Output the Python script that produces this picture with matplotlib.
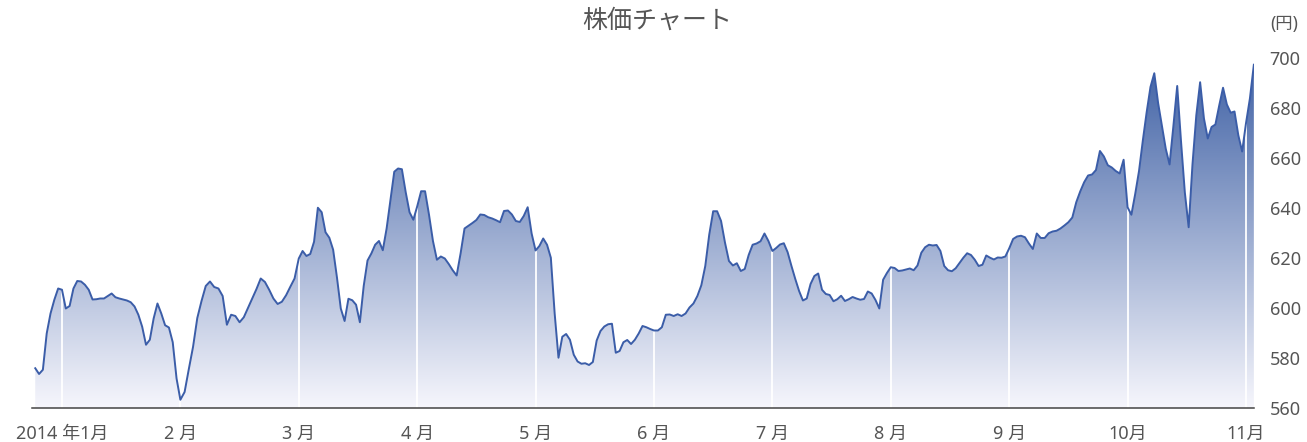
import numpy as np
import pandas as pd
import matplotlib
matplotlib.use("Agg")
import matplotlib.pyplot as plt
from matplotlib.patches import Polygon
from matplotlib.colors import LinearSegmentedColormap

plt.rcParams['font.family'] = ['Noto Sans', 'Noto Sans CJK JP', 'DejaVu Sans']

# Daily closing prices (円), one list per calendar month
first_day = "2013-12-25"
prices_2013_12 = [576.1, 573.8, 575.5, 590.0, 598.0, 603.5, 608.0]
prices_2014_01 = [607.5, 600.0, 601.0, 608.0, 611.0, 610.8, 609.5, 607.5, 603.6, 603.7,
                  604.0, 604.0, 605.0, 606.0, 604.5, 604.0, 603.6, 603.2, 602.5, 600.8,
                  597.5, 592.7, 585.5, 587.5, 596.0, 602.0, 598.0, 593.3, 592.4, 586.5,
                  572.0]
prices_2014_02 = [563.5, 566.6, 575.8, 584.7, 596.2, 603.0, 609.0, 610.8, 608.6, 608.0,
                  605.0, 593.5, 597.5, 597.0, 594.5, 596.5, 600.3, 604.0, 607.8, 612.0,
                  610.6, 607.5, 604.0, 601.8, 602.7, 605.3, 608.7, 612.0]
prices_2014_03 = [620.0, 623.0, 621.0, 621.8, 626.7, 640.3, 638.5, 630.5, 628.3, 623.5,
                  612.4, 600.0, 595.0, 603.9, 603.3, 601.5, 594.5, 609.0, 619.2, 622.0,
                  625.5, 627.0, 623.3, 632.0, 643.5, 654.7, 656.0, 655.7, 646.5, 638.5,
                  635.5]
prices_2014_04 = [640.8, 646.9, 646.9, 637.5, 627.0, 619.5, 620.8, 620.0, 617.8, 615.3,
                  613.2, 622.0, 632.0, 633.1, 634.2, 635.4, 637.6, 637.4, 636.5, 636.0,
                  635.3, 634.5, 639.0, 639.2, 637.6, 635.0, 634.6, 637.0, 640.5, 630.0]
prices_2014_05 = [623.2, 625.0, 628.0, 625.5, 620.3, 598.0, 580.3, 588.7, 589.8, 587.5,
                  581.5, 578.8, 577.9, 578.1, 577.4, 578.6, 587.2, 591.0, 592.8, 593.7,
                  593.9, 582.3, 583.0, 586.5, 587.4, 585.8, 587.5, 590.0, 593.0, 592.5,
                  591.8]
prices_2014_06 = [591.2, 591.2, 592.5, 597.5, 597.6, 597.0, 597.7, 597.0, 598.0, 600.4,
                  602.0, 605.0, 609.3, 617.0, 629.5, 638.9, 638.9, 635.0, 626.3, 619.0,
                  617.2, 618.1, 615.0, 615.8, 621.4, 625.5, 626.0, 626.9, 630.0, 627.0]
prices_2014_07 = [623.0, 624.2, 625.6, 626.1, 622.5, 617.0, 611.8, 607.0, 603.2, 604.0,
                  609.8, 613.0, 614.0, 607.5, 605.8, 605.4, 602.9, 603.7, 605.1, 603.0,
                  603.7, 604.6, 604.0, 603.5, 603.8, 606.8, 606.0, 603.4, 600.0, 611.5,
                  614.2]
prices_2014_08 = [616.5, 616.2, 615.0, 615.2, 615.6, 616.0, 615.3, 617.2, 622.3, 624.5,
                  625.5, 625.2, 625.4, 623.0, 617.0, 615.3, 614.9, 616.1, 618.2, 620.3,
                  622.1, 621.4, 619.5, 617.0, 617.5, 621.2, 620.3, 619.6, 620.4, 620.3,
                  620.8]
prices_2014_09 = [624.0, 627.8, 628.8, 629.1, 628.5, 626.0, 623.8, 630.0, 628.2, 628.2,
                  630.1, 630.8, 631.1, 632.0, 633.2, 634.5, 636.4, 642.5, 646.8, 650.5,
                  653.2, 653.6, 655.4, 663.0, 660.8, 657.3, 656.4, 655.0, 654.0, 659.5]
prices_2014_10 = [640.5, 637.5, 645.8, 655.0, 667.2, 678.5, 688.6, 694.1, 682.2, 673.0,
                  663.9, 657.6, 673.0, 689.0, 666.8, 646.4, 632.5, 657.7, 677.3, 690.5,
                  676.0, 668.0, 672.6, 673.6, 681.2, 688.3, 681.6, 678.3, 678.8, 669.3,
                  662.8]
prices_2014_11 = [674.0, 684.0, 697.5]

month_labels = ["2014 年1月", "2 月", "3 月", "4 月", "5 月", "6 月",
                "7 月", "8 月", "9 月", "10月", "11月"]
y_ticks = [560, 580, 600, 620, 640, 660, 680, 700]
y_unit = "(円)"
title = "株価チャート"

prices = np.concatenate([prices_2013_12, prices_2014_01, prices_2014_02, prices_2014_03,
                         prices_2014_04, prices_2014_05, prices_2014_06, prices_2014_07,
                         prices_2014_08, prices_2014_09, prices_2014_10, prices_2014_11])
dates = pd.date_range(first_day, periods=len(prices), freq="D")


def month_position(ts):
    # every month takes the same width on the axis; 0 = 2014-01-01
    return (ts.year - 2014) * 12 + (ts.month - 1) + (ts.day - 1) / ts.days_in_month


x = np.array([month_position(d) for d in dates])

y_min, y_max = y_ticks[0], y_ticks[-1]
x_lo, x_hi = -0.2508, 10.0718

fig = plt.figure(figsize=(13.07, 4.42), dpi=100)
ax = fig.add_axes([0.0247, 0.0758, 0.9351, 0.7919])

# area below the price line, used as the clip region for the gradient
verts = [(x[0], y_min)] + list(zip(x, prices)) + [(x[-1], y_min)]
area = Polygon(verts, closed=True, facecolor="none", edgecolor="none")
ax.add_patch(area)

fade = LinearSegmentedColormap.from_list("fade", [(246/255, 246/255, 252/255),
                                                  (62/255, 96/255, 164/255)])
grad = np.linspace(0, 1, 512).reshape(-1, 1)
im = ax.imshow(grad, extent=[x_lo, x_hi, y_min, y_max], origin="lower",
               aspect="auto", cmap=fade, zorder=1, interpolation="bilinear")
im.set_clip_path(area)

# white month separators inside the filled area
seps = ax.vlines(np.arange(len(month_labels)), y_min, y_max, colors="white",
                 linewidth=1.3, zorder=2)
seps.set_clip_path(area)

ax.plot(x, prices, color="#3b5da8", lw=1.4, zorder=3, solid_joinstyle="round")

ax.set_xlim(x_lo, x_hi)
ax.set_ylim(y_min, y_max)

for side in ("top", "left", "right"):
    ax.spines[side].set_visible(False)
ax.spines["bottom"].set_color("#444444")
ax.spines["bottom"].set_linewidth(1.1)
ax.spines["bottom"].set_zorder(4)

ax.set_xticks(np.arange(len(month_labels)))
ax.set_xticklabels(month_labels)
ax.yaxis.tick_right()
ax.set_yticks(y_ticks)
ax.set_yticklabels([str(v) for v in y_ticks])
ax.tick_params(axis="x", length=0, pad=12, labelsize=13, labelcolor="#555555")
ax.tick_params(axis="y", length=0, pad=11, labelsize=13, labelcolor="#555555")
for lab in ax.get_yticklabels():
    lab.set_horizontalalignment("left")

ax.text(1.0127, 1.098, y_unit, transform=ax.transAxes, ha="left", va="center",
        fontsize=12.5, color="#555555")

fig.text(0.5027, 0.951, title, ha="center", va="center", fontsize=18, color="#555555")

fig.savefig("out.png", dpi=100)
